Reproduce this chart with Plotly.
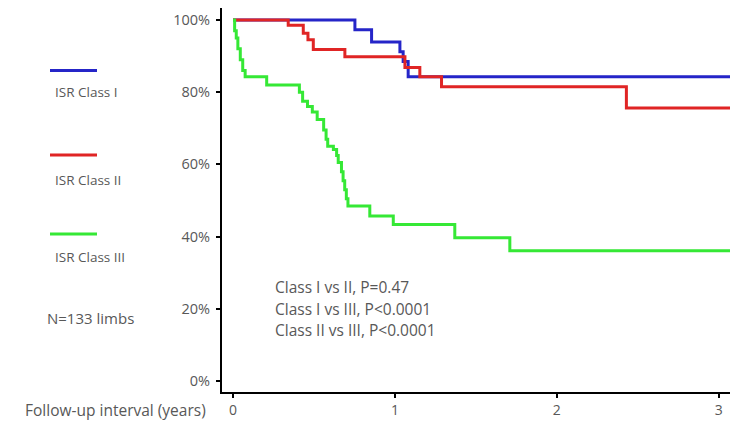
import plotly.graph_objects as go

# ---- data ----
class1_t = [0, 0.753, 0.856, 1.031, 1.051, 1.082, 3.07]
class1_s = [100, 97.3, 93.9, 91.2, 88.5, 84.3, 84.3]

class2_t = [0, 0.341, 0.434, 0.463, 0.496, 0.691, 1.062, 1.154, 1.288, 2.430, 3.07]
class2_s = [100, 98.5, 96.3, 94.5, 91.8, 89.8, 86.8, 84.3, 81.5, 75.6, 75.6]

class3_t = [0, 0.01, 0.02, 0.03, 0.045, 0.06, 0.075, 0.208, 0.41, 0.43, 0.46, 0.49,
            0.52, 0.56, 0.575, 0.585, 0.62, 0.64, 0.65, 0.67, 0.68, 0.69, 0.70,
            0.71, 0.845, 0.99, 1.37, 1.71, 3.07]
class3_s = [100, 97, 95, 92, 89, 86, 84.3, 82.0, 80.0, 77.5, 76.0, 74.5,
            72.4, 69.5, 67.0, 65.0, 64.1, 62.5, 60.5, 58.0, 55.5, 53.0, 50.5,
            48.5, 45.7, 43.4, 39.7, 36.1, 36.1]

series_names = ["ISR Class I", "ISR Class II", "ISR Class III"]
series_colors = ["#2525c8", "#e02525", "#35e835"]

x_ticks = [0, 1, 2, 3]
y_ticks = [0, 20, 40, 60, 80, 100]

stats_lines = ["Class I vs II, P=0.47", "Class I vs III, P<0.0001", "Class II vs III, P<0.0001"]
n_label = "N=133 limbs"
x_title = "Follow-up interval (years)"

# ---- layout geometry (pixels in the window; page body has an 8px margin) ----
OFF = 8
W, H = 740 - OFF, 425 - OFF
L, R, T, B = 222 - OFF, 730 - OFF, 6 - OFF + 2, 392 - OFF
FONT = "Open Sans, sans-serif"
GRAY = "#585858"

def px(x):
    return (x - OFF - L) / (R - L)

def py(y):
    return (B - (y - OFF)) / (B - T)

fig = go.Figure()
for t, s, n, c in zip([class1_t, class2_t, class3_t], [class1_s, class2_s, class3_s],
                      series_names, series_colors):
    fig.add_trace(go.Scatter(x=t, y=s, mode="lines", line=dict(color=c, width=3, shape="hv"),
                             name=n, showlegend=False))

shapes = []
annotations = []
legend_line_y = [70.5, 155, 234]
legend_text_y = [92, 180, 257]
for n, c, ly, ty in zip(series_names, series_colors, legend_line_y, legend_text_y):
    shapes.append(dict(type="line", xref="paper", yref="paper", x0=px(50), x1=px(97),
                       y0=py(ly), y1=py(ly), line=dict(color=c, width=3)))
    annotations.append(dict(text=n, xref="paper", yref="paper", x=px(53), y=py(ty),
                            xanchor="left", yanchor="middle", showarrow=False,
                            font=dict(family=FONT, size=13.5, color=GRAY)))
annotations.append(dict(text=n_label, xref="paper", yref="paper", x=px(45), y=py(318),
                        xanchor="left", yanchor="middle", showarrow=False,
                        font=dict(family=FONT, size=15, color=GRAY)))
for i, s in enumerate(stats_lines):
    annotations.append(dict(text=s, xref="paper", yref="paper", x=px(273), y=py(287 + 21.5 * i),
                            xanchor="left", yanchor="middle", showarrow=False,
                            font=dict(family=FONT, size=15.5, color=GRAY)))
annotations.append(dict(text=x_title, xref="paper", yref="paper", x=px(208), y=py(410),
                        xanchor="right", yanchor="middle", showarrow=False,
                        font=dict(family=FONT, size=15.5, color=GRAY)))

fig.update_layout(
    width=W, height=H,
    margin=dict(l=L, r=W - R, t=T, b=H - B, pad=0),
    paper_bgcolor="white", plot_bgcolor="white",
    shapes=shapes, annotations=annotations,
    font=dict(family=FONT, size=14, color=GRAY),
)
fig.update_xaxes(range=[-0.068, 3.07], tickvals=x_ticks, ticktext=[str(v) for v in x_ticks],
                 showgrid=False, zeroline=False, showline=True, linecolor="black", linewidth=2,
                 ticks="outside", ticklen=4, tickwidth=2, tickcolor="black",
                 tickfont=dict(family=FONT, size=14, color=GRAY))
fig.update_yaxes(range=[-3, 103.3], tickvals=y_ticks, ticktext=[f"{v}%" for v in y_ticks],
                 showgrid=False, zeroline=False, showline=True, linecolor="black", linewidth=2,
                 ticks="outside", ticklen=4, tickwidth=2, tickcolor="black",
                 tickfont=dict(family=FONT, size=14.5, color=GRAY), ticklabelstandoff=3)

fig.write_html("out.html")
